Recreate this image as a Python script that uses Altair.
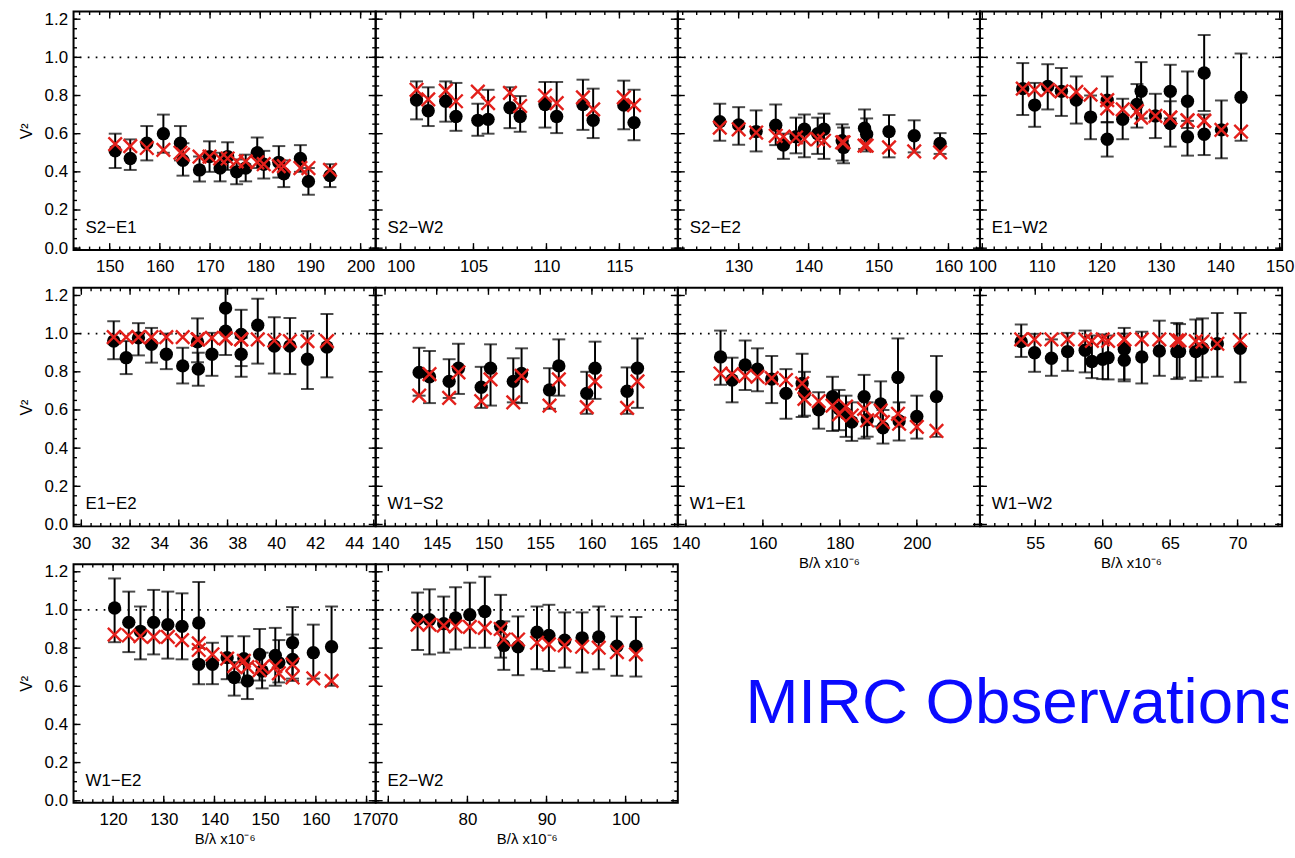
import altair as alt
import numpy as np
import pandas as pd

FONT = "Liberation Sans"
RED = "#e3201b"
XTITLE = "B/λ x10⁻⁶"
YTITLE = "V²"
CAPTION = "MIRC Observations"

# ---------------- squared visibilities per baseline ----------------
# x: spatial frequency B/lambda (x1e-6), v2: measured V^2, lo/hi: error-bar limits, model: model V^2
s2e1_x = [151.1, 154.1, 157.4, 160.7, 164.1, 164.6, 167.9, 169.9, 172.0, 173.5, 175.3, 177.1, 179.4, 180.7, 183.7, 184.7, 188.0, 189.6, 193.9]
s2e1_v2 = [0.51, 0.47, 0.55, 0.60, 0.55, 0.46, 0.41, 0.48, 0.42, 0.48, 0.40, 0.42, 0.50, 0.44, 0.45, 0.39, 0.47, 0.35, 0.38]
s2e1_lo = [0.42, 0.41, 0.46, 0.50, 0.46, 0.38, 0.35, 0.40, 0.35, 0.41, 0.335, 0.35, 0.42, 0.365, 0.37, 0.32, 0.40, 0.28, 0.32]
s2e1_hi = [0.60, 0.57, 0.64, 0.70, 0.64, 0.55, 0.48, 0.56, 0.50, 0.555, 0.465, 0.49, 0.58, 0.51, 0.535, 0.46, 0.54, 0.42, 0.44]
s2e1_model = [0.545, 0.535, 0.525, 0.515, 0.50, 0.49, 0.48, 0.48, 0.47, 0.47, 0.455, 0.455, 0.45, 0.44, 0.43, 0.43, 0.42, 0.42, 0.41]

s2w2_x = [101.1, 101.9, 103.1, 103.8, 105.3, 106.0, 107.5, 108.2, 109.9, 110.7, 112.5, 113.2, 115.3, 116.0]
s2w2_v2 = [0.776, 0.72, 0.77, 0.69, 0.67, 0.675, 0.736, 0.69, 0.753, 0.69, 0.753, 0.67, 0.75, 0.658]
s2w2_lo = [0.675, 0.64, 0.663, 0.615, 0.589, 0.60, 0.629, 0.61, 0.632, 0.603, 0.62, 0.577, 0.623, 0.566]
s2w2_hi = [0.874, 0.843, 0.874, 0.866, 0.757, 0.83, 0.843, 0.797, 0.871, 0.871, 0.883, 0.836, 0.878, 0.83]
s2w2_model = [0.83, 0.78, 0.826, 0.77, 0.82, 0.76, 0.814, 0.745, 0.80, 0.76, 0.79, 0.727, 0.79, 0.75]

s2e2_x = [127.3, 130.0, 132.5, 135.3, 136.4, 138.2, 139.4, 141.3, 142.2, 144.8, 145.0, 148.0, 148.3, 151.5, 155.1, 158.8]
s2e2_v2 = [0.663, 0.646, 0.611, 0.644, 0.54, 0.584, 0.623, 0.60, 0.623, 0.563, 0.528, 0.629, 0.597, 0.611, 0.589, 0.549]
s2e2_lo = [0.563, 0.542, 0.507, 0.54, 0.468, 0.497, 0.476, 0.494, 0.468, 0.459, 0.445, 0.52, 0.507, 0.476, 0.502, 0.494]
s2e2_hi = [0.757, 0.739, 0.722, 0.753, 0.60, 0.684, 0.70, 0.684, 0.705, 0.649, 0.632, 0.727, 0.68, 0.698, 0.67, 0.603]
s2e2_model = [0.632, 0.623, 0.606, 0.589, 0.585, 0.58, 0.571, 0.571, 0.563, 0.554, 0.554, 0.537, 0.537, 0.528, 0.507, 0.502]

e1w2_x = [106.8, 108.8, 111.0, 113.3, 115.8, 118.2, 121.0, 121.0, 123.6, 126.0, 126.7, 129.1, 131.6, 131.6, 134.5, 134.5, 137.3, 137.3, 140.2, 143.5]
e1w2_v2 = [0.836, 0.75, 0.848, 0.822, 0.776, 0.687, 0.776, 0.571, 0.675, 0.753, 0.822, 0.693, 0.653, 0.822, 0.77, 0.584, 0.918, 0.597, 0.62, 0.791]
e1w2_lo = [0.698, 0.636, 0.727, 0.693, 0.653, 0.571, 0.66, 0.48, 0.571, 0.632, 0.68, 0.577, 0.532, 0.68, 0.63, 0.485, 0.719, 0.488, 0.471, 0.563]
e1w2_hi = [0.97, 0.866, 0.964, 0.944, 0.90, 0.80, 0.90, 0.66, 0.783, 0.86, 0.975, 0.809, 0.77, 0.961, 0.926, 0.667, 1.117, 0.70, 0.774, 1.02]
e1w2_model = [0.836, 0.83, 0.83, 0.822, 0.819, 0.805, 0.776, 0.733, 0.727, 0.718, 0.684, 0.693, 0.684, 0.684, 0.67, 0.67, 0.667, 0.667, 0.62, 0.611]

e1e2_x = [31.66, 32.3, 32.93, 33.6, 34.36, 35.2, 36.0, 35.96, 36.7, 37.4, 37.4, 38.2, 38.2, 39.05, 39.9, 40.7, 41.6, 42.6]
e1e2_v2 = [0.961, 0.874, 0.978, 0.944, 0.892, 0.831, 0.814, 0.957, 0.892, 1.134, 1.013, 0.892, 0.996, 1.044, 0.935, 0.935, 0.866, 0.93]
e1e2_lo = [0.866, 0.788, 0.886, 0.848, 0.814, 0.739, 0.727, 0.85, 0.779, 1.02, 0.888, 0.774, 0.83, 0.843, 0.791, 0.788, 0.71, 0.771]
e1e2_hi = [1.065, 0.961, 1.055, 1.03, 1.0, 0.926, 0.90, 1.08, 1.004, 1.238, 1.13, 0.978, 1.125, 1.183, 1.086, 1.082, 1.013, 1.103]
e1e2_model = [0.982, 0.982, 0.982, 0.982, 0.982, 0.982, 0.97, 0.97, 0.978, 0.975, 0.975, 0.97, 0.97, 0.97, 0.964, 0.961, 0.961, 0.961]

w1s2_x = [143.3, 144.3, 146.2, 147.1, 149.3, 150.2, 152.4, 153.2, 155.9, 156.8, 159.5, 160.3, 163.4, 164.4]
w1s2_v2 = [0.797, 0.774, 0.75, 0.819, 0.719, 0.819, 0.75, 0.791, 0.705, 0.831, 0.687, 0.819, 0.698, 0.819]
w1s2_lo = [0.675, 0.636, 0.663, 0.684, 0.611, 0.623, 0.64, 0.636, 0.606, 0.675, 0.58, 0.658, 0.58, 0.611]
w1s2_hi = [0.926, 0.909, 0.866, 0.947, 0.826, 0.944, 0.871, 0.923, 0.819, 0.97, 0.80, 0.958, 0.823, 0.975]
w1s2_model = [0.675, 0.788, 0.663, 0.797, 0.646, 0.76, 0.64, 0.779, 0.623, 0.76, 0.615, 0.75, 0.611, 0.75]

w1e1_x = [149.0, 152.0, 155.4, 158.6, 162.3, 166.0, 170.2, 170.8, 174.5, 178.1, 179.8, 181.6, 183.1, 186.3, 187.1, 190.6, 191.2, 195.1, 195.4, 200.0, 205.1]
w1e1_v2 = [0.878, 0.757, 0.836, 0.814, 0.762, 0.687, 0.739, 0.687, 0.601, 0.67, 0.606, 0.58, 0.537, 0.67, 0.549, 0.632, 0.507, 0.77, 0.542, 0.566, 0.67]
w1e1_lo = [0.732, 0.64, 0.705, 0.698, 0.636, 0.554, 0.563, 0.57, 0.502, 0.49, 0.494, 0.459, 0.438, 0.45, 0.46, 0.514, 0.424, 0.56, 0.44, 0.45, 0.459]
w1e1_hi = [1.016, 0.874, 0.964, 0.923, 0.883, 0.814, 0.895, 0.80, 0.693, 0.774, 0.705, 0.675, 0.64, 0.784, 0.64, 0.75, 0.60, 0.975, 0.64, 0.675, 0.883]
w1e1_model = [0.791, 0.788, 0.779, 0.774, 0.767, 0.757, 0.739, 0.658, 0.646, 0.623, 0.577, 0.618, 0.571, 0.606, 0.545, 0.597, 0.537, 0.58, 0.528, 0.511, 0.49]

w1w2_x = [53.96, 54.95, 56.2, 57.4, 58.7, 59.2, 60.0, 60.4, 61.6, 61.6, 62.9, 64.2, 65.5, 65.7, 66.9, 67.4, 68.5, 70.2]
w1w2_v2 = [0.958, 0.90, 0.871, 0.906, 0.913, 0.854, 0.866, 0.874, 0.861, 0.918, 0.878, 0.909, 0.906, 0.906, 0.906, 0.923, 0.947, 0.923]
w1w2_lo = [0.878, 0.80, 0.779, 0.805, 0.797, 0.767, 0.762, 0.76, 0.75, 0.76, 0.739, 0.779, 0.762, 0.77, 0.753, 0.771, 0.774, 0.745]
w1w2_hi = [1.048, 0.999, 0.97, 1.004, 1.016, 0.99, 0.996, 0.99, 1.03, 1.0, 1.01, 1.068, 1.056, 1.05, 1.074, 1.08, 1.108, 1.108]
w1w2_model = [0.97, 0.97, 0.97, 0.97, 0.97, 0.962, 0.97, 0.962, 0.97, 0.97, 0.97, 0.97, 0.965, 0.965, 0.961, 0.958, 0.947, 0.964]

w1e2_x = [120.3, 123.1, 125.4, 128.0, 130.8, 133.6, 136.9, 136.9, 139.6, 142.5, 143.9, 145.8, 146.5, 148.9, 149.4, 152.0, 152.7, 155.4, 155.4, 159.5, 163.1]
w1e2_v2 = [1.01, 0.935, 0.888, 0.935, 0.923, 0.914, 0.932, 0.715, 0.715, 0.75, 0.646, 0.745, 0.628, 0.767, 0.68, 0.762, 0.724, 0.828, 0.741, 0.776, 0.807]
w1e2_lo = [0.831, 0.779, 0.741, 0.767, 0.745, 0.741, 0.73, 0.611, 0.611, 0.637, 0.551, 0.62, 0.533, 0.63, 0.589, 0.603, 0.62, 0.64, 0.628, 0.64, 0.603]
w1e2_hi = [1.165, 1.096, 1.018, 1.105, 1.096, 1.087, 1.146, 0.80, 0.828, 0.862, 0.727, 0.862, 0.72, 0.90, 0.776, 0.906, 0.842, 1.015, 0.871, 0.923, 1.018]
w1e2_model = [0.871, 0.866, 0.862, 0.859, 0.859, 0.842, 0.825, 0.79, 0.767, 0.745, 0.706, 0.733, 0.70, 0.684, 0.70, 0.706, 0.668, 0.715, 0.646, 0.641, 0.628]

e2w2_x = [73.7, 75.2, 77.0, 78.5, 80.3, 82.2, 84.2, 84.6, 86.4, 88.8, 90.3, 92.3, 94.5, 96.6, 98.9, 101.3]
e2w2_v2 = [0.952, 0.949, 0.928, 0.958, 0.975, 0.992, 0.914, 0.814, 0.807, 0.883, 0.866, 0.841, 0.854, 0.859, 0.81, 0.81]
e2w2_lo = [0.79, 0.767, 0.776, 0.793, 0.802, 0.802, 0.75, 0.686, 0.658, 0.689, 0.68, 0.698, 0.672, 0.689, 0.655, 0.651]
e2w2_hi = [1.091, 1.108, 1.07, 1.119, 1.143, 1.174, 1.079, 0.94, 0.966, 1.018, 1.027, 0.987, 0.987, 1.018, 0.966, 0.963]
e2w2_model = [0.923, 0.923, 0.918, 0.914, 0.911, 0.906, 0.90, 0.845, 0.845, 0.828, 0.819, 0.814, 0.807, 0.802, 0.779, 0.767]

# panel name, data, x range, labelled ticks, minor step, y title shown, x title shown
panels = [
    ("S2−E1", (s2e1_x, s2e1_v2, s2e1_lo, s2e1_hi, s2e1_model), (142.8, 203.0), [150, 160, 170, 180, 190, 200], 2, True, False),
    ("S2−W2", (s2w2_x, s2w2_v2, s2w2_lo, s2w2_hi, s2w2_model), (98.3, 119.0), [100, 105, 110, 115], 1, False, False),
    ("S2−E2", (s2e2_x, s2e2_v2, s2e2_lo, s2e2_hi, s2e2_model), (121.3, 164.5), [130, 140, 150, 160], 2, False, False),
    ("E1−W2", (e1w2_x, e1w2_v2, e1w2_lo, e1w2_hi, e1w2_model), (99.6, 150.4), [100, 110, 120, 130, 140, 150], 2, False, False),
    ("E1−E2", (e1e2_x, e1e2_v2, e1e2_lo, e1e2_hi, e1e2_model), (29.6, 45.1), [30, 32, 34, 36, 38, 40, 42, 44], 0.5, True, False),
    ("W1−S2", (w1s2_x, w1s2_v2, w1s2_lo, w1s2_hi, w1s2_model), (139.1, 168.3), [140, 145, 150, 155, 160, 165], 1, False, False),
    ("W1−E1", (w1e1_x, w1e1_v2, w1e1_lo, w1e1_hi, w1e1_model), (137.9, 216.4), [140, 160, 180, 200], 5, False, True),
    ("W1−W2", (w1w2_x, w1w2_v2, w1w2_lo, w1w2_hi, w1w2_model), (50.9, 73.3), [55, 60, 65, 70], 1, False, True),
    ("W1−E2", (w1e2_x, w1e2_v2, w1e2_lo, w1e2_hi, w1e2_model), (112.2, 171.8), [120, 130, 140, 150, 160, 170], 2, True, True),
    ("E2−W2", (e2w2_x, e2w2_v2, e2w2_lo, e2w2_hi, e2w2_model), (68.4, 106.6), [70, 80, 90, 100], 2, False, True),
]

Y_LABELS = [0.0, 0.2, 0.4, 0.6, 0.8, 1.0, 1.2]
Y_DOMAIN = [-0.01, 1.24]
W, H = 304, 240
MAJ, MIN = 7, 3.5
XPATH = "M-1,-1L1,1M-1,1L1,-1"


def panel(name, data, xdom, xlabels, minor, ytitle, xtitle):
    x, v2, lo, hi, model = data
    df = pd.DataFrame({"x": x, "v2": v2, "lo": lo, "hi": hi, "model": model})

    xscale = alt.Scale(domain=list(xdom), nice=False, zero=False)
    yscale = alt.Scale(domain=Y_DOMAIN, nice=False, zero=False)
    xaxis_kw = dict(values=xlabels, format="d", ticks=False, tickSize=0, domain=False, grid=False,
                    labelFont=FONT, labelFontSize=17, labelColor="black", labelPadding=9,
                    labelFlush=False, labelOverlap=False)
    if xtitle:
        xaxis = alt.Axis(title=XTITLE, titleFont=FONT, titleFontSize=15, titleFontWeight="normal",
                         titleColor="black", titlePadding=4, **xaxis_kw)
    else:
        xaxis = alt.Axis(title=None, **xaxis_kw)
    if ytitle:
        yaxis = alt.Axis(values=Y_LABELS, format=".1f", ticks=False, tickSize=0, domain=False, grid=False,
                         labelFont=FONT, labelFontSize=17, labelColor="black", labelPadding=6,
                         title=YTITLE, titleFont=FONT, titleFontSize=16, titleFontWeight="normal",
                         titleColor="black", titlePadding=10)
    else:
        yaxis = None

    def X(f):
        return alt.X(f, type="quantitative", scale=xscale, axis=xaxis)

    def Y(f):
        return alt.Y(f, type="quantitative", scale=yscale, axis=yaxis)

    # inward major/minor ticks on all four sides of the box
    major = 20 if minor == 5 else minor * 5
    xmaj = np.arange(np.ceil(xdom[0] / major) * major, xdom[1], major)
    xmin = np.arange(np.ceil(xdom[0] / minor) * minor, xdom[1], minor)
    ymaj = np.round(np.arange(0, 1.21, 0.2), 2)
    ymin = np.round(np.arange(0, 1.24, 0.05), 2)
    xt_maj = pd.DataFrame({"x": xmaj})
    xt_min = pd.DataFrame({"x": xmin})
    yt_maj = pd.DataFrame({"v2": ymaj})
    yt_min = pd.DataFrame({"v2": ymin})

    tick = dict(color="black", strokeWidth=1.4)
    layers = []
    for tdf, ln in ((xt_maj, MAJ), (xt_min, MIN)):
        layers.append(alt.Chart(tdf).mark_rule(**tick).encode(x=X("x"), y=alt.value(0), y2=alt.value(ln)))
        layers.append(alt.Chart(tdf).mark_rule(**tick).encode(x=X("x"), y=alt.value(H), y2=alt.value(H - ln)))
    for tdf, ln in ((yt_maj, MAJ), (yt_min, MIN)):
        layers.append(alt.Chart(tdf).mark_rule(**tick).encode(y=Y("v2"), x=alt.value(0), x2=alt.value(ln)))
        layers.append(alt.Chart(tdf).mark_rule(**tick).encode(y=Y("v2"), x=alt.value(W), x2=alt.value(W - ln)))

    # V^2 = 1 reference line
    layers.append(alt.Chart(pd.DataFrame({"v2": [1.0]})).mark_rule(
        color="black", strokeWidth=1.7, strokeDash=[1.7, 6.3]).encode(y=Y("v2")))

    base = alt.Chart(df)
    layers += [
        base.mark_rule(color="black", strokeWidth=2).encode(x=X("x"), y=Y("lo"), y2="hi"),
        base.mark_tick(orient="horizontal", color="black", size=13, thickness=2).encode(x=X("x"), y=Y("lo")),
        base.mark_tick(orient="horizontal", color="black", size=13, thickness=2).encode(x=X("x"), y=Y("hi")),
        base.mark_circle(color="black", size=180, opacity=1).encode(x=X("x"), y=Y("v2")),
        base.mark_point(shape=XPATH, color=RED, size=185, strokeWidth=2.4, filled=False, opacity=1).encode(
            x=X("x"), y=Y("model")),
        alt.Chart(pd.DataFrame({"name": [name]})).mark_text(
            align="left", baseline="alphabetic", font=FONT, fontSize=17, color="black").encode(
            x=alt.value(12), y=alt.value(H - 17), text="name:N"),
    ]
    return alt.layer(*layers).properties(width=W, height=H)


def caption_cell(x_offset, width):
    # the caption runs across the two empty grid cells and is cut at the right edge
    return alt.Chart(pd.DataFrame({"t": [CAPTION]})).mark_text(
        align="left", baseline="alphabetic", font=FONT, fontSize=64, color="#0a0aff", clip=True).encode(
        x=alt.value(x_offset), y=alt.value(160), text="t:N").properties(
        width=width, height=H, view=alt.ViewBackground(stroke="transparent"))


cells = [panel(*p) for p in panels]
cells.append(caption_cell(68, W))
cells.append(caption_cell(68 - W, W + 6))

chart = alt.concat(
    *cells, columns=4, spacing={"row": 38, "column": 0}, bounds="flush", align="none"
).properties(
    padding={"left": 17, "top": 6, "right": 0, "bottom": 0},
    background="white",
).configure_view(stroke="black", strokeWidth=2)

chart.save("out.html", embed_options={"renderer": "svg", "actions": False})
